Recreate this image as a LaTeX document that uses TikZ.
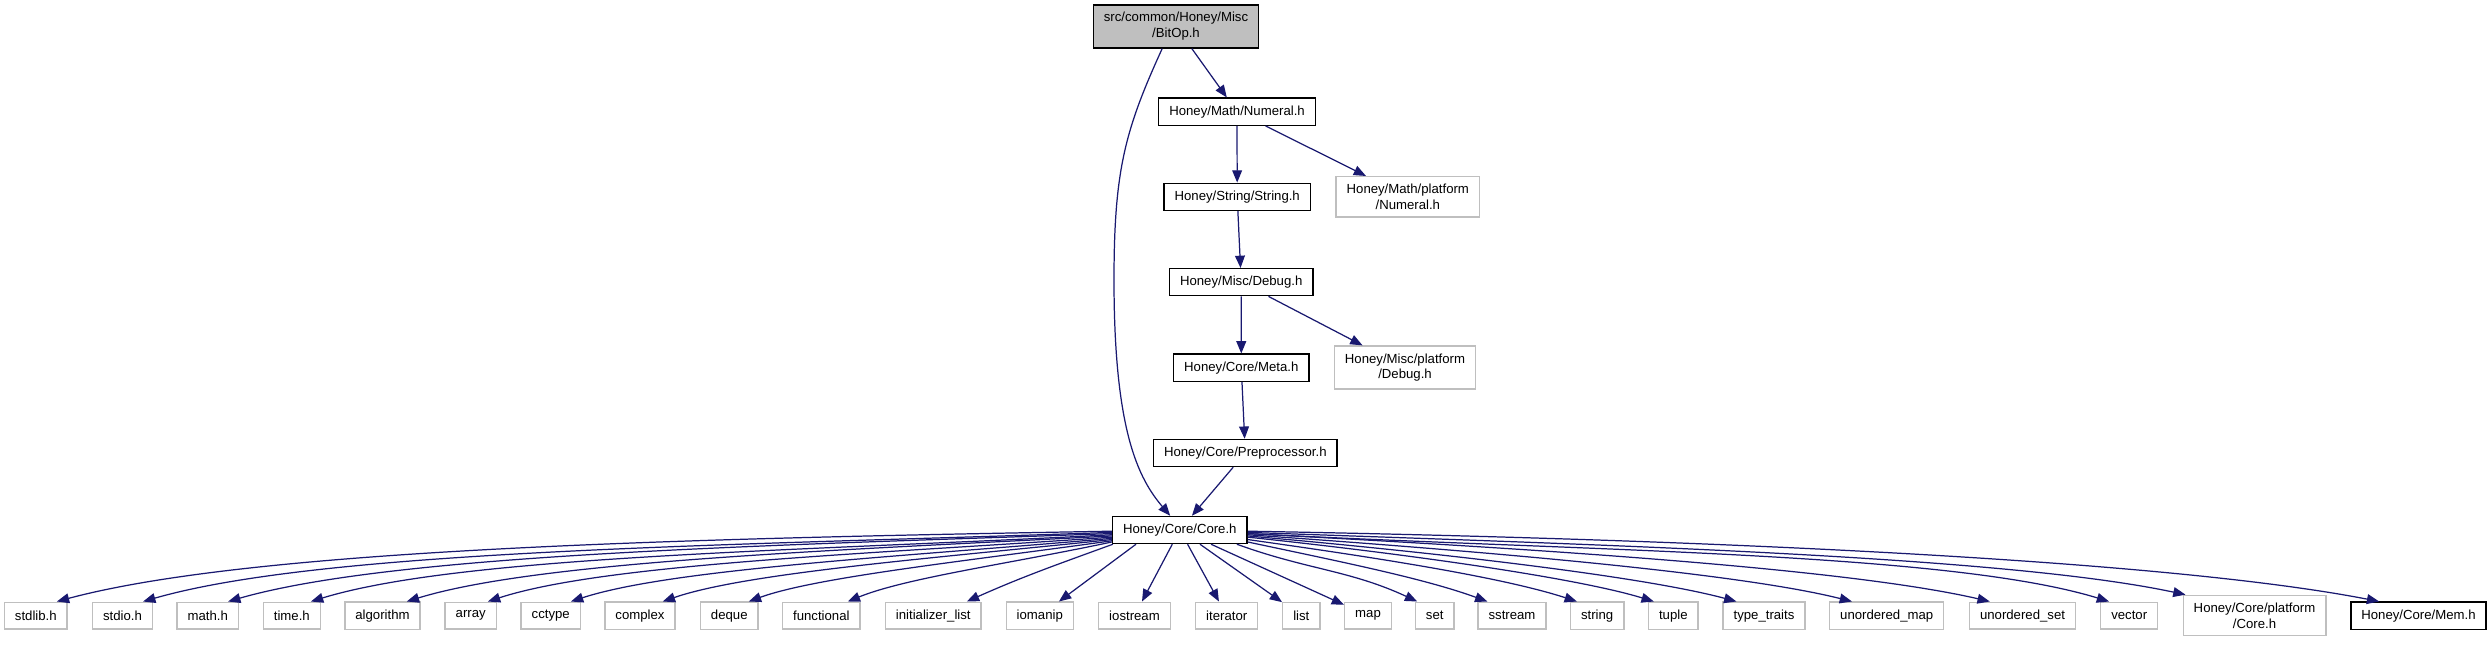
\documentclass[tikz,border=0pt]{standalone}
\usepackage{fontspec}
\setmainfont{Liberation Sans}
\usetikzlibrary{arrows.meta}
\definecolor{grey75}{HTML}{BFBFBF}
\definecolor{edgeblue}{HTML}{191970}

\begin{document}
\begin{tikzpicture}[x=0.02cm,y=-0.02cm,>={Triangle[length=7pt,width=5.6pt]},
  font=\fontsize{7.5}{9}\selectfont,
  hdr/.style={draw=black,line width=0.8pt,fill=white,inner xsep=0.21cm,inner ysep=4.2pt,minimum height=0.54cm,align=center},
  sys/.style={hdr,draw=grey75},
  cur/.style={hdr,fill=grey75},
  inc/.style={->,draw=edgeblue,line width=0.7pt}]
\useasboundingbox (0,0) rectangle (2492,645);

% chain below BitOp.h
\node[cur] (bitop) at (1176,26.5) {src/common/Honey/Misc\\/BitOp.h};
\node[hdr] (numeral) at (1237,111.7) {Honey/Math/Numeral.h};
\node[hdr] (honeystring) at (1237.2,196.8) {Honey/String/String.h};
\node[sys] (numplat) at (1407.8,196.8) {Honey/Math/platform\\/Numeral.h};
\node[hdr] (debug) at (1241.2,282.2) {Honey/Misc/Debug.h};
\node[sys] (debugplat) at (1405,367.5) {Honey/Misc/platform\\/Debug.h};
\node[hdr] (meta) at (1241.3,367.7) {Honey/Core/Meta.h};
\node[hdr] (prepro) at (1245.3,453) {Honey/Core/Preprocessor.h};
\node[hdr] (core) at (1179.8,530) {Honey/Core/Core.h};

% bottom row
\node[sys] (stdlib) at (35.8,615.7) {stdlib.h};
\node[sys] (stdio) at (122.5,615.7) {stdio.h};
\node[sys] (mathh) at (207.8,615.7) {math.h};
\node[sys] (timeh) at (291.8,615.7) {time.h};
\node[sys] (algorithm) at (382.5,615.7) {algorithm};
\node[sys] (array) at (470.7,615.7) {array};
\node[sys] (cctype) at (550.7,615.7) {cctype};
\node[sys] (complex) at (640,615.7) {complex};
\node[sys] (deque) at (729.3,615.7) {deque};
\node[sys] (functional) at (821.3,615.7) {functional};
\node[sys] (initlist) at (933.3,615.7) {initializer\_list};
\node[sys] (iomanip) at (1039.8,615.7) {iomanip};
\node[sys] (iostream) at (1134.5,615.7) {iostream};
\node[sys] (iterator) at (1226.7,615.7) {iterator};
\node[sys] (list) at (1301.3,615.7) {list};
\node[sys] (map) at (1368,615.7) {map};
\node[sys] (set) at (1434.7,615.7) {set};
\node[sys] (sstream) at (1512,615.7) {sstream};
\node[sys] (stdstring) at (1597.2,615.7) {string};
\node[sys] (tuple) at (1673.3,615.7) {tuple};
\node[sys] (typetraits) at (1764,615.7) {type\_traits};
\node[sys] (umap) at (1886.7,615.7) {unordered\_map};
\node[sys] (uset) at (2022.5,615.7) {unordered\_set};
\node[sys] (vector) at (2129.2,615.7) {vector};
\node[sys] (coreplat) at (2254.5,615.5) {Honey/Core/platform\\/Core.h};
\node[hdr] (mem) at (2418.5,615.7) {Honey/Core/Mem.h};

% includes
\draw[inc] (bitop) -- (numeral);
\draw[inc] (numeral) -- (honeystring);
\draw[inc] (numeral) -- (numplat);
\draw[inc] (honeystring) -- (debug);
\draw[inc] (debug) -- (meta);
\draw[inc] (debug) -- (debugplat);
\draw[inc] (meta) -- (prepro);
\draw[inc] (prepro) -- (core);
\draw[inc] (bitop.238) .. controls (1125,130) and (1114,170) .. (1114,280) .. controls (1114,430) and (1138,478) .. (core.124);

% Core.h fan, left half
\draw[inc] (core.181) to[out=181,in=15,in looseness=0.5] ([xshift=-2.2mm]stdlib.north east);
\draw[inc] (core.182) to[out=182,in=16,in looseness=0.5] ([xshift=-2mm]stdio.north east);
\draw[inc] (core.183) to[out=182,in=16,in looseness=0.5] ([xshift=-2.2mm]mathh.north east);
\draw[inc] (core.184) to[out=183,in=17,in looseness=0.5] ([xshift=-2mm]timeh.north east);
\draw[inc] (core.185) to[out=183,in=17,in looseness=0.5] ([xshift=-2.8mm]algorithm.north east);
\draw[inc] (core.186) to[out=184,in=18,in looseness=0.5] ([xshift=-1.8mm]array.north east);
\draw[inc] (core.187) to[out=185,in=18,in looseness=0.5] ([xshift=-2mm]cctype.north east);
\draw[inc] (core.188) to[out=186,in=19,in looseness=0.5] ([xshift=-2.6mm]complex.north east);
\draw[inc] (core.189) to[out=188,in=20,in looseness=0.5] ([xshift=-2mm]deque.north east);
\draw[inc] (core.190) to[out=192,in=22,in looseness=0.6] ([xshift=-2.6mm]functional.north east);
\draw[inc] (core.192) to[out=200,in=24] ([xshift=-3mm]initlist.north east);
\draw[inc] (core.198) -- (iomanip);
\draw[inc] (core) -- (iostream);
\draw[inc] (core) -- (iterator);
\draw[inc] (core) -- (list);
\draw[inc] (core) -- (map);

% Core.h fan, right half
\draw[inc] (core.-14) to[out=-20,in=155] ([xshift=0.5mm]set.north west);
\draw[inc] (core.-10) to[out=-12,in=160,in looseness=0.7] ([xshift=2mm]sstream.north west);
\draw[inc] (core.-8) to[out=-8,in=162,in looseness=0.6] ([xshift=1.4mm]stdstring.north west);
\draw[inc] (core.-6) to[out=-6,in=163,in looseness=0.5] ([xshift=1.2mm]tuple.north west);
\draw[inc] (core.-5) to[out=-5,in=165,in looseness=0.5] ([xshift=2.8mm]typetraits.north west);
\draw[inc] (core.-4) to[out=-4,in=166,in looseness=0.5] ([xshift=4.6mm]umap.north west);
\draw[inc] (core.-3) to[out=-3,in=167,in looseness=0.5] ([xshift=4.2mm]uset.north west);
\draw[inc] (core.-3.5) to[out=-3,in=163,in looseness=0.5] ([xshift=1.8mm]vector.north west);
\draw[inc] (core.-2) to[out=-2,in=168,in looseness=0.5] ([xshift=0.6mm]coreplat.north west);
\draw[inc] (core.-1) to[out=-1,in=169,in looseness=0.5] ([xshift=5.8mm]mem.north west);
\end{tikzpicture}
\end{document}
